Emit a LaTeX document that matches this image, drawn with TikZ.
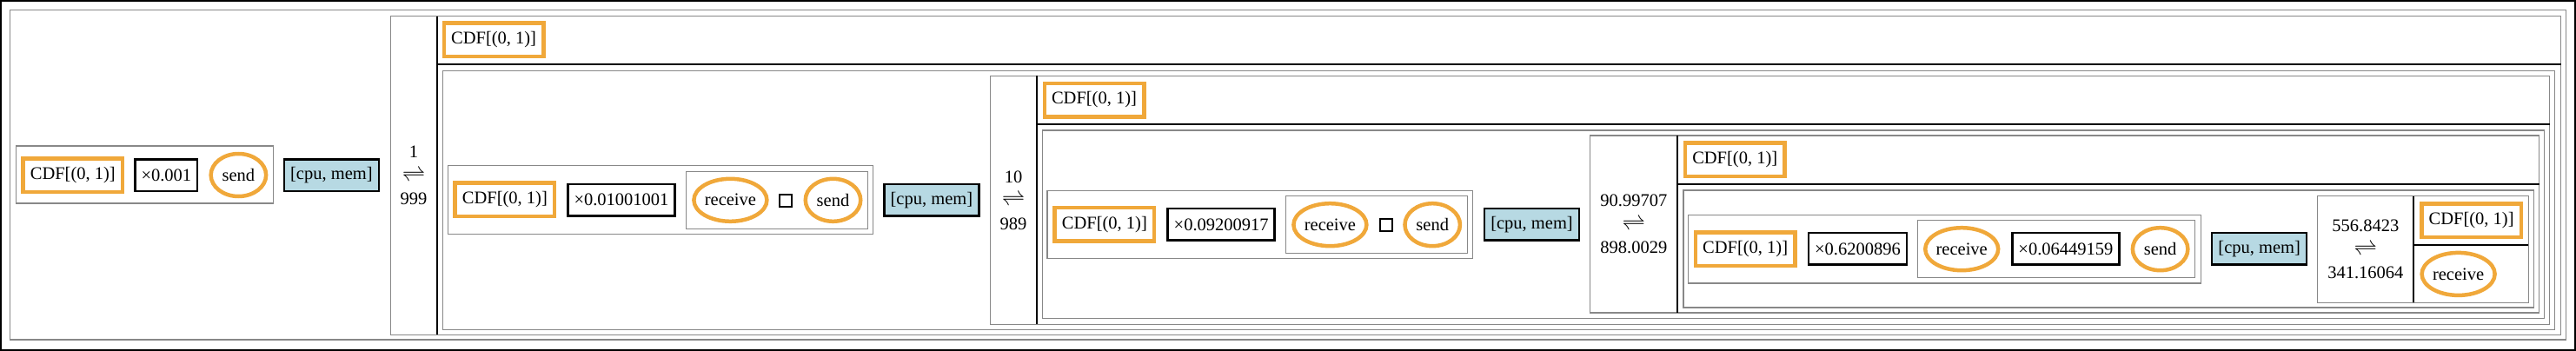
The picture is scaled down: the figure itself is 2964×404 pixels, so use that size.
\documentclass[tikz,border=0pt]{standalone}
\usepackage{fontspec}
\usepackage{graphicx}
\setmainfont{Liberation Serif}
\usetikzlibrary{shapes.geometric}
\definecolor{cdforange}{RGB}{240,168,58}
\definecolor{cpublue}{RGB}{183,217,227}
\definecolor{framegray}{RGB}{136,136,136}
\newcommand{\rateflip}{\scalebox{1.3}{$\rightleftharpoons$}}
\begin{document}
\begin{tikzpicture}[x=1pt,y=-1pt,
        font=\fontsize{20.5}{27}\selectfont,
        grpbox/.style={draw=framegray,line width=1.2pt},
        divider/.style={draw=black,line width=2pt},
        cdf/.style={draw=cdforange,line width=4.5pt,minimum width=114.5pt,minimum height=38.5pt,inner sep=0pt},
        mul/.style={draw=black,line width=2.5pt,minimum height=36.5pt,inner xsep=7pt,inner ysep=0pt},
        res/.style={mul,fill=cpublue,minimum width=109pt},
        act/.style={ellipse,draw=cdforange,line width=4.5pt,minimum height=49pt,inner sep=0pt},
        rcv/.style={act,minimum width=84pt},
        snd/.style={act,minimum width=63.5pt},
        choice/.style={draw=black,line width=2pt,minimum size=14pt,inner sep=0pt},
        rate/.style={align=center,inner sep=0pt}]
        \useasboundingbox (0,0) rectangle (2964,404);
        \draw[line width=2pt] (1,1) rectangle (2963,403);

        % nested frames
        \draw[grpbox] (11.5,11.7) rectangle (2952.2,391);
        \draw[grpbox] (449.3,18.7) rectangle (2946.8,385.3);
        \draw[grpbox] (509.4,81.3) rectangle (2939.6,379.3);
        \draw[grpbox] (1139.3,87.3) rectangle (2933.5,373.3);
        \draw[grpbox] (1199.6,150) rectangle (2927.3,366.7);
        \draw[grpbox] (1829.5,156) rectangle (2921.6,360);
        \draw[grpbox] (1936.9,219) rectangle (2915.5,354);
        \draw[grpbox] (2666.5,225.7) rectangle (2909.4,348.3);

        % sequence groups
        \draw[grpbox] (18.4,168) rectangle (314.6,234);
        \draw[grpbox] (515.5,190.7) rectangle (1004.5,269.3);
        \draw[grpbox] (789.3,197.3) rectangle (998.7,263.3);
        \draw[grpbox] (1205,219.3) rectangle (1694.6,297.3);
        \draw[grpbox] (1479.5,225.7) rectangle (1688.4,291.3);
        \draw[grpbox] (1942.6,247.3) rectangle (2532.4,326);
        \draw[grpbox] (2206.3,253.3) rectangle (2525.5,319.3);

        % dividers
        \draw[divider] (502.5,18.7) -- (502.5,385.3);
        \draw[divider] (502.5,74) -- (2946.8,74);
        \draw[divider] (1192.9,87.3) -- (1192.9,373.3);
        \draw[divider] (1192.9,142.7) -- (2933.5,142.7);
        \draw[divider] (1930,156) -- (1930,360);
        \draw[divider] (1930,212.3) -- (2921.6,212.3);
        \draw[divider] (2777,225.7) -- (2777,348.3);
        \draw[divider] (2777,281.7) -- (2909.4,281.7);

        % level 1
        \node[cdf] (cdfa) at (83.8,201.5) {CDF[(0, 1)]};
        \node[mul] (mula) at (191.4,201.5) {×0.001};
        \node[snd] (snda) at (274.4,201.5) {send};
        \node[res] (resa) at (381.4,201.5) {[cpu, mem]};
        \node[rate] (ratea) at (476,202) {1\\\rateflip\\999};
        \node[cdf] (topb) at (568.1,45.8) {CDF[(0, 1)]};

        % level 2
        \node[cdf] (cdfb) at (580.9,229.8) {CDF[(0, 1)]};
        \node[mul] (mulb) at (715,230.3) {×0.01001001};
        \node[rcv] (rcvb) at (840.4,230.3) {receive};
        \node[choice] (chb) at (904.2,230.5) {};
        \node[snd] (sndb) at (958.5,230.3) {send};
        \node[res] (resb) at (1071.9,230.1) {[cpu, mem]};
        \node[rate] (rateb) at (1166.1,230.3) {10\\\rateflip\\989};
        \node[cdf] (topd) at (1259,115) {CDF[(0, 1)]};

        % level 3
        \node[cdf] (cdfc) at (1270.9,258.3) {CDF[(0, 1)]};
        \node[mul] (mulc) at (1405.2,258.4) {×0.09200917};
        \node[rcv] (rcvc) at (1530.4,258.7) {receive};
        \node[choice] (chc) at (1595.3,258.7) {};
        \node[snd] (sndc) at (1648.2,258.7) {send};
        \node[res] (resc) at (1762.5,258.4) {[cpu, mem]};
        \node[rate] (ratec) at (1879.8,258) {90.99707\\\rateflip\\898.0029};
        \node[cdf] (topf) at (1996.2,183.9) {CDF[(0, 1)]};

        % level 4
        \node[cdf] (cdfd) at (2008.1,286.8) {CDF[(0, 1)]};
        \node[mul] (muld) at (2137.4,286.4) {×0.6200896};
        \node[rcv] (rcvd) at (2257.2,286.7) {receive};
        \node[mul] (mule) at (2376.9,286.4) {×0.06449159};
        \node[snd] (sndd) at (2485.6,286.7) {send};
        \node[res] (resd) at (2599.7,286.4) {[cpu, mem]};
        \node[rate] (rated) at (2721.8,287) {556.8423\\\rateflip\\341.16064};
        \node[cdf] (toph) at (2843.6,253.7) {CDF[(0, 1)]};
        \node[rcv] (rcvh) at (2828.6,315.4) {receive};
    \end{tikzpicture}
\end{document}
